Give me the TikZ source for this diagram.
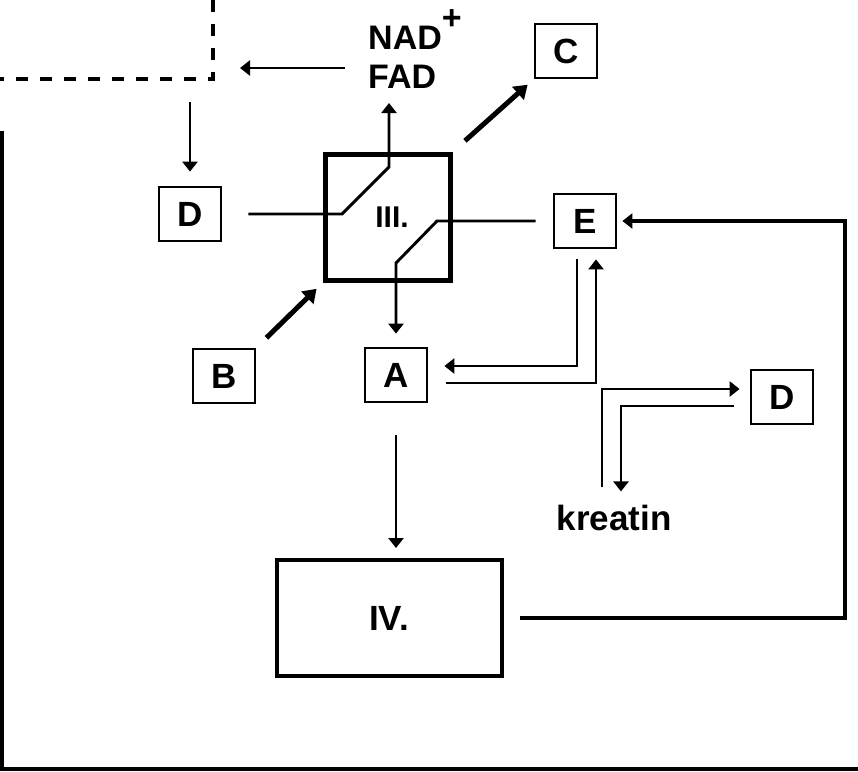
\documentclass[tikz,border=0pt]{standalone}
\usepackage{fontspec}
\setmainfont{Liberation Sans}
\usetikzlibrary{arrows.meta}
\begin{document}
\begin{tikzpicture}[x=1pt, y=-1pt,
    letter/.style={draw, line width=2.8pt, minimum width=62pt, minimum height=54pt,
      inner sep=0pt, font=\fontsize{35}{40}\selectfont\bfseries},
    word/.style={inner sep=0pt, font=\fontsize{34}{40}\selectfont\bfseries},
    arr/.style={line width=2.9pt, -{Triangle[width=15pt,length=10pt]}},
    bigarr/.style={line width=5pt, -{Triangle[width=17pt,length=13pt]}}]
  \useasboundingbox (0,0) rectangle (858,771);
  % frame and dashed corner
  \draw[line width=4.5pt] (2,131) -- (2,769) -- (858,769);
  \draw[line width=3.5pt, dash pattern=on 12pt off 12pt] (213,0) -- (213,79) -- (0,79);
  % boxes
  \node[letter] (D1) at (190,214) {D};
  \node[letter] (C) at (566,51) {C};
  \node[letter] (B) at (224,376) {B};
  \node[letter] (A) at (396,375) {A};
  \node[letter] (E) at (585,221) {E};
  \node[letter] (D2) at (782,397) {D};
  \node[draw, line width=5pt, minimum width=125pt, minimum height=126pt, inner sep=0pt,
    font=\fontsize{30}{36}\selectfont\bfseries] (III) at (388,217) {\hspace*{8pt}III.};
  \node[draw, line width=4pt, minimum width=225pt, minimum height=116pt, inner sep=0pt,
    font=\fontsize{35}{40}\selectfont\bfseries] (IV) at (389,618) {IV.};
  % texts
  \node[word, anchor=base west] (nad) at (368,49) {NAD\raisebox{20pt}{+}};
  \node[word, anchor=base west] (fad) at (368,88) {FAD};
  \node[word, anchor=base, font=\fontsize{35}{40}\selectfont\bfseries] (kr) at (614,530) {kreatin};
  % free ends
  \coordinate (back) at (345,68);
  \coordinate (fwd) at (240,68);
  \coordinate (split) at (190,102);
  \coordinate (up) at (389,103);
  \coordinate (rc) at (845,618);
  % connectors
  \draw[arr] (back) -- (fwd);
  \draw[arr, shorten >=14pt] (split) -- (D1.north);
  \draw[arr, shorten <=26pt] (D1.east) -- (342,214) -- (389,167) -- (up);
  \draw[arr, shorten <=17pt, shorten >=13pt] (E.west) -- (437,221) -- (396,263) -- (A.north);
  \draw[bigarr, shorten <=16pt, shorten >=8pt] (III.north east) -- (C.south west);
  \draw[bigarr, shorten <=14pt, shorten >=9pt] (B.north east) -- (III.south west);
  \draw[arr] ([xshift=-8pt, yshift=-10pt]E.south) |- ([xshift=16pt, yshift=9pt]A.east);
  \draw[arr] ([xshift=18pt, yshift=-8pt]A.east) -| ([xshift=11pt, yshift=-10pt]E.south);
  \draw[arr] ([xshift=-12pt, yshift=17pt]kr.north) |- ([xshift=-10pt, yshift=8pt]D2.west);
  \draw[arr] ([xshift=-16pt, yshift=-9pt]D2.west) -| ([xshift=7pt, yshift=13pt]kr.north);
  \draw[arr, shorten <=32pt, shorten >=10pt] (A.south) -- (A.south |- IV.north);
  \draw[arr, line width=3.5pt] ([xshift=16pt]IV.east) -- (rc) |- ([xshift=5pt]E.east);
\end{tikzpicture}
\end{document}
